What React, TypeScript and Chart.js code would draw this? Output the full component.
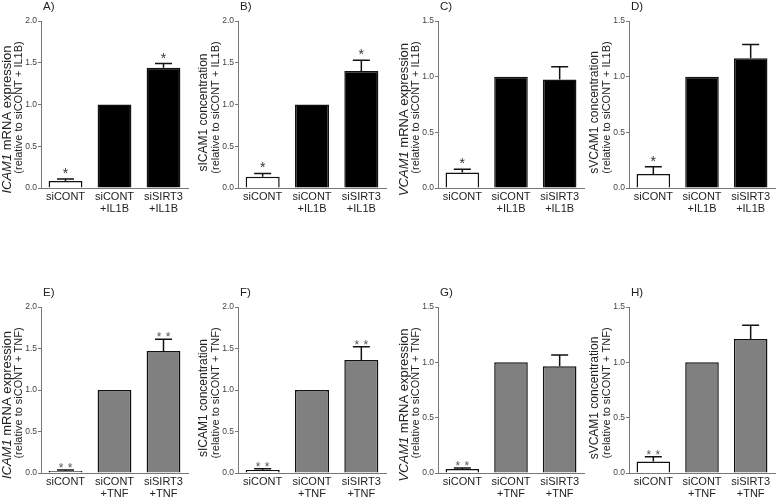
import React, { useEffect, useRef } from "react";
import { Chart, registerables } from "chart.js";
Chart.register(...registerables);

const FONT = "'Liberation Sans', Arial, Helvetica, sans-serif";

// Category labels
const labelsIL1B = ["siCONT", ["siCONT", "+IL1B"], ["siSIRT3", "+IL1B"]];
const labelsTNF = ["siCONT", ["siCONT", "+TNF"], ["siSIRT3", "+TNF"]];

// Y axis maxima
const yMaxICAM = 2.0;
const yMaxVCAM = 1.5;

// Series values (mean) and upper error-bar ends (null = no error bar)
const meanA = [0.085, 1.0, 1.44];
const errA = [0.108, null, 1.49];
const starsA = ["*", "", "*"];

const meanB = [0.135, 1.0, 1.4];
const errB = [0.175, null, 1.53];
const starsB = ["*", "", "*"];

const meanC = [0.14, 1.0, 0.975];
const errC = [0.168, null, 1.09];
const starsC = ["*", "", ""];

const meanD = [0.125, 1.0, 1.165];
const errD = [0.19, null, 1.29];
const starsD = ["*", "", ""];

const meanE = [0.025, 1.0, 1.47];
const errE = [0.035, null, 1.61];
const starsE = ["**", "", "**"];

const meanF = [0.037, 1.0, 1.36];
const errF = [0.05, null, 1.52];
const starsF = ["**", "", "**"];

const meanG = [0.036, 1.0, 0.965];
const errG = [0.045, null, 1.066];
const starsG = ["**", "", ""];

const meanH = [0.105, 1.0, 1.21];
const errH = [0.147, null, 1.334];
const starsH = ["**", "", ""];

// Y axis titles (segments: [text, italic])
const titleICAMmRNA = [["ICAM1", true], [" mRNA expression", false]];
const titleVCAMmRNA = [["VCAM1", true], [" mRNA expression", false]];
const titleSICAM = [["sICAM1 concentration", false]];
const titleSVCAM = [["sVCAM1 concentration", false]];
const relIL1B = "(relative to siCONT + IL1B)";
const relTNF = "(relative to siCONT + TNF)";

type Panel = {
  letter: string;
  left: number; top: number; width: number; height: number;
  axisX: number; axisEnd: number; plotTop: number; plotBottom: number;
  yMax: number; labels: any[]; mean: number[]; err: (number | null)[]; stars: string[];
  title1: any[]; title2: string; mrna: boolean; tnf: boolean;
};

const panels: Panel[] = [
  { letter: "A)", left: 0, top: 0, width: 195, height: 250, axisX: 41, axisEnd: 188, plotTop: 21, plotBottom: 188, yMax: yMaxICAM, labels: labelsIL1B, mean: meanA, err: errA, stars: starsA, title1: titleICAMmRNA, title2: relIL1B, mrna: true, tnf: false },
  { letter: "B)", left: 195, top: 0, width: 195, height: 250, axisX: 238, axisEnd: 386, plotTop: 21, plotBottom: 188, yMax: yMaxICAM, labels: labelsIL1B, mean: meanB, err: errB, stars: starsB, title1: titleSICAM, title2: relIL1B, mrna: false, tnf: false },
  { letter: "C)", left: 390, top: 0, width: 195, height: 250, axisX: 438, axisEnd: 584, plotTop: 21, plotBottom: 188, yMax: yMaxVCAM, labels: labelsIL1B, mean: meanC, err: errC, stars: starsC, title1: titleVCAMmRNA, title2: relIL1B, mrna: true, tnf: false },
  { letter: "D)", left: 585, top: 0, width: 191, height: 250, axisX: 629, axisEnd: 775, plotTop: 21, plotBottom: 188, yMax: yMaxVCAM, labels: labelsIL1B, mean: meanD, err: errD, stars: starsD, title1: titleSVCAM, title2: relIL1B, mrna: false, tnf: false },
  { letter: "E)", left: 0, top: 250, width: 195, height: 247, axisX: 41, axisEnd: 188, plotTop: 307, plotBottom: 473, yMax: yMaxICAM, labels: labelsTNF, mean: meanE, err: errE, stars: starsE, title1: titleICAMmRNA, title2: relTNF, mrna: true, tnf: true },
  { letter: "F)", left: 195, top: 250, width: 195, height: 247, axisX: 238, axisEnd: 386, plotTop: 307, plotBottom: 473, yMax: yMaxICAM, labels: labelsTNF, mean: meanF, err: errF, stars: starsF, title1: titleSICAM, title2: relTNF, mrna: false, tnf: true },
  { letter: "G)", left: 390, top: 250, width: 195, height: 247, axisX: 438, axisEnd: 584, plotTop: 307, plotBottom: 473, yMax: yMaxVCAM, labels: labelsTNF, mean: meanG, err: errG, stars: starsG, title1: titleVCAMmRNA, title2: relTNF, mrna: true, tnf: true },
  { letter: "H)", left: 585, top: 250, width: 191, height: 247, axisX: 629, axisEnd: 775, plotTop: 307, plotBottom: 473, yMax: yMaxVCAM, labels: labelsTNF, mean: meanH, err: errH, stars: starsH, title1: titleSVCAM, title2: relTNF, mrna: false, tnf: true },
];

const Y_SCALE_W = 24;

function PanelChart({ p }: { p: Panel }) {
  const ref = useRef<HTMLCanvasElement>(null);
  useEffect(() => {
    const canvas = ref.current!;
    const padLeft = p.axisX - p.left - Y_SCALE_W;
    const padRight = p.left + p.width - p.axisEnd;
    const padTop = p.plotTop - p.top;
    const xH = p.top + p.height - p.plotBottom;
    const fill = p.tnf
      ? ["#ffffff", "#808080", "#808080"]
      : ["#ffffff", "#000000", "#000000"];

    const overlay = {
      id: "overlay" + p.letter,
      afterDatasetsDraw(chart: any) {
        const ctx = chart.ctx;
        const ys = chart.scales.y;
        const meta = chart.getDatasetMeta(0);
        const area = chart.chartArea;
        ctx.save();
        // error bars + stars
        p.err.forEach((e, i) => {
          const bar = meta.data[i];
          const x = bar.x;
          let capY = bar.y;
          if (e !== null) {
            capY = ys.getPixelForValue(e);
            ctx.strokeStyle = "#111";
            ctx.lineWidth = 1.5;
            ctx.beginPath();
            ctx.moveTo(x, bar.y);
            ctx.lineTo(x, capY);
            ctx.moveTo(x - 8.5, capY);
            ctx.lineTo(x + 8.5, capY);
            ctx.stroke();
          }
          const s = p.stars[i];
          if (s) {
            const fs = p.tnf ? 12 : 14;
            const d = p.tnf ? 5 : 9;
            ctx.font = `${fs}px ${FONT}`;
            ctx.fillStyle = p.tnf ? "#555" : "#333";
            ctx.textAlign = "center";
            ctx.textBaseline = "alphabetic";
            const base = capY - d + 6.9 * (fs / 12);
            if (s.length === 2) {
              ctx.fillText("*", x - 4.5, base);
              ctx.fillText("*", x + 4.5, base);
            } else {
              ctx.fillText("*", x, base);
            }
          }
        });
        // panel letter
        ctx.font = `11.5px ${FONT}`;
        ctx.fillStyle = "#222";
        ctx.textAlign = "left";
        ctx.textBaseline = "middle";
        ctx.fillText(p.letter, area.left + 2, area.top - 14);
        // y title
        const cy = (area.top + area.bottom) / 2;
        const drawLine = (segs: any[], cx: number, cyy: number, size: number) => {
          ctx.save();
          ctx.translate(cx, cyy);
          ctx.rotate(-Math.PI / 2);
          let total = 0;
          segs.forEach(([t, it]) => {
            ctx.font = `${it ? "italic " : ""}${size}px ${FONT}`;
            total += ctx.measureText(t).width;
          });
          let xx = -total / 2;
          ctx.fillStyle = "#222";
          ctx.textAlign = "left";
          ctx.textBaseline = "middle";
          segs.forEach(([t, it]) => {
            ctx.font = `${it ? "italic " : ""}${size}px ${FONT}`;
            ctx.fillText(t, xx, 0);
            xx += ctx.measureText(t).width;
          });
          ctx.restore();
        };
        const s1 = p.mrna ? 13 : 12;
        const off1 = p.mrna ? 15 : 8;
        drawLine(p.title1, area.left - 34, cy + off1, s1);
        drawLine([[p.title2, false]], area.left - 22, cy + 3, 11);
        ctx.restore();
      },
    };

    const chart = new Chart(canvas, {
      type: "bar",
      data: {
        labels: p.labels,
        datasets: [
          {
            data: p.mean,
            backgroundColor: fill,
            borderColor: "#111",
            borderWidth: 1.5,
            barPercentage: 0.69,
            categoryPercentage: 1,
          },
        ],
      },
      options: {
        responsive: false,
        maintainAspectRatio: false,
        animation: false,
        layout: { padding: { left: padLeft, right: padRight, top: padTop, bottom: 0 } },
        plugins: { legend: { display: false }, tooltip: { enabled: false } },
        scales: {
          x: {
            grid: { display: false, drawTicks: false },
            border: { display: true, color: "#777", width: 1 },
            ticks: {
              font: { family: FONT, size: 11, lineHeight: 1.1 },
              color: "#222",
              padding: 3,
              maxRotation: 0,
              autoSkip: false,
            },
            afterFit: (s: any) => {
              s.height = xH;
            },
          },
          y: {
            min: 0,
            max: p.yMax,
            grid: { display: true, drawOnChartArea: false, drawTicks: true, tickLength: 3, color: "#777" },
            border: { display: true, color: "#777", width: 1 },
            ticks: {
              stepSize: 0.5,
              callback: (v: any) => Number(v).toFixed(1),
              font: { family: FONT, size: 8.5 },
              color: "#444",
              padding: 1,
            },
            afterFit: (s: any) => {
              s.width = Y_SCALE_W;
            },
          },
        },
      } as any,
      plugins: [overlay],
    });
    return () => chart.destroy();
  }, [p]);
  return (
    <canvas
      ref={ref}
      width={p.width}
      height={p.height}
      style={{ position: "absolute", left: p.left, top: p.top, width: p.width, height: p.height }}
    />
  );
}

export default function App() {
  return (
    <div style={{ position: "fixed", left: 0, top: 0, width: 776, height: 497, background: "#fff", overflow: "hidden" }}>
      {panels.map((p) => (
        <PanelChart key={p.letter} p={p} />
      ))}
    </div>
  );
}
